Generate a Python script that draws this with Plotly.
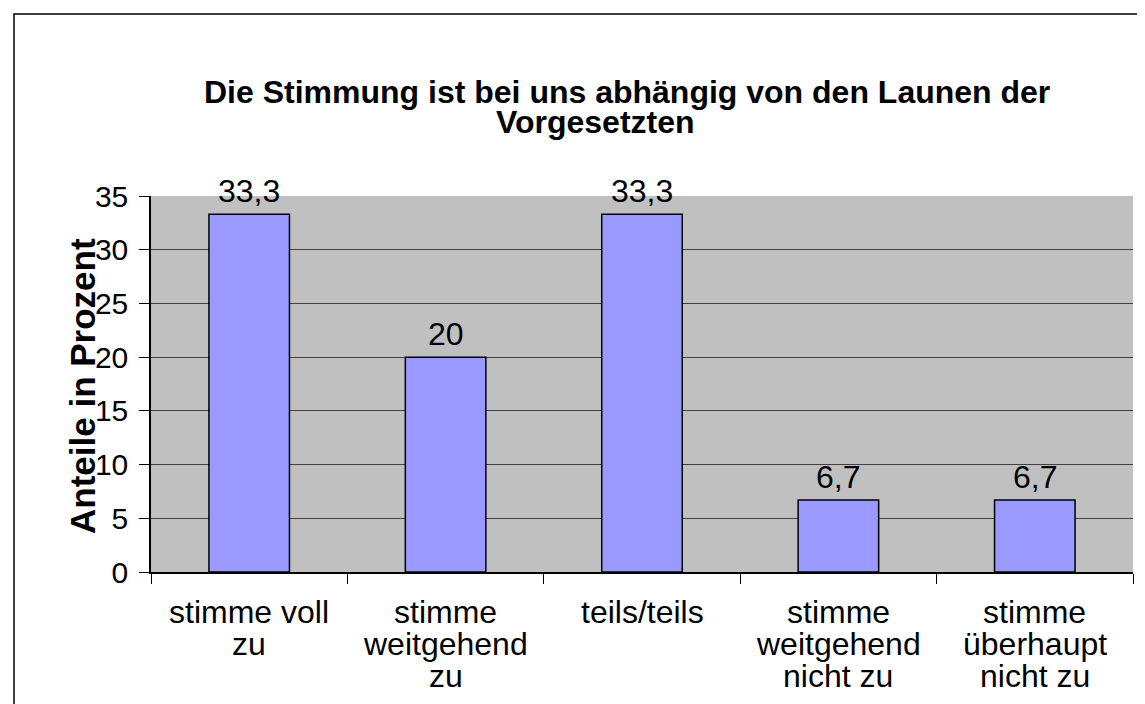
import plotly.graph_objects as go

categories = ["stimme voll zu", "stimme weitgehend zu", "teils/teils",
              "stimme weitgehend nicht zu", "stimme überhaupt nicht zu"]
label_lines = [["stimme voll", "zu"],
               ["stimme", "weitgehend", "zu"],
               ["teils/teils"],
               ["stimme", "weitgehend", "nicht zu"],
               ["stimme", "überhaupt", "nicht zu"]]
values = [33.3, 20, 33.3, 6.7, 6.7]
value_labels = ["33,3", "20", "33,3", "6,7", "6,7"]
title_lines = ["Die Stimmung ist bei uns abhängig von den Launen der", "Vorgesetzten"]
y_title = "Anteile in Prozent"
y_ticks = [0, 5, 10, 15, 20, 25, 30, 35]

OFF = 8  # page body margin
W, H = 1145 - OFF, 704 - OFF
# plot area in screen pixels: left 151, right 1133, top 196, bottom 572
L, T = 151 - OFF, 196 - OFF
R = W - (1133 - OFF)
B = H - (572 - OFF)
PW, PH = W - L - R, H - T - B
FONT = "Liberation Sans, Arial, sans-serif"


def px_x(x):
    return (x - OFF - L) / PW


def px_y(y):
    return (H - B - (y - OFF)) / PH


fig = go.Figure()
fig.add_trace(go.Bar(
    x=categories, y=values,
    marker=dict(color="#9999FF", line=dict(color="black", width=1.5)),
    width=0.41, cliponaxis=False, showlegend=False, hoverinfo="x+y",
))

annotations = []
# value labels above bars
for cat, v, lab in zip(categories, values, value_labels):
    annotations.append(dict(
        text=lab, x=cat, y=v, xref="x", yref="y", xanchor="center",
        yanchor="bottom", yshift=3, showarrow=False,
        font=dict(size=32, color="black", family=FONT)))
# title lines
title_centers = [627, 595]
title_mid = [92, 122]
for line, cx, cy in zip(title_lines, title_centers, title_mid):
    annotations.append(dict(
        text="<b>%s</b>" % line, x=px_x(cx), y=px_y(cy), xref="paper", yref="paper",
        xanchor="center", yanchor="middle", showarrow=False,
        font=dict(size=32, color="black", family=FONT)))
# y axis title
annotations.append(dict(
    text="<b>%s</b>" % y_title, x=px_x(82), y=px_y(386), xref="paper", yref="paper",
    xanchor="center", yanchor="middle", textangle=-90, showarrow=False,
    font=dict(size=35, color="black", family=FONT)))
# category labels, one annotation per line
for cat, lines in zip(categories, label_lines):
    for j, line in enumerate(lines):
        annotations.append(dict(
            text=line, x=cat, xref="x", y=px_y(612 + 32.2 * j), yref="paper",
            xanchor="center", yanchor="middle", showarrow=False,
            font=dict(size=32, color="black", family=FONT)))

fig.update_layout(
    width=W, height=H,
    margin=dict(l=L, r=R, t=T, b=B, pad=0),
    paper_bgcolor="white", plot_bgcolor="#C0C0C0",
    font=dict(family=FONT, color="black"),
    annotations=annotations,
    shapes=[dict(type="rect", xref="paper", yref="paper",
                 x0=px_x(14), x1=px_x(1145 + 30), y0=px_y(704 + 30), y1=px_y(14),
                 line=dict(color="black", width=1.5), layer="below")],
    bargap=0.59,
)
fig.update_xaxes(
    showline=True, linecolor="black", linewidth=1.5,
    ticks="outside", tickson="boundaries", ticklen=10, tickcolor="black",
    showticklabels=False, showgrid=False,
)
fig.update_yaxes(
    range=[0, 35], tickvals=y_ticks, ticktext=[str(v) for v in y_ticks],
    showline=True, linecolor="black", linewidth=1.5,
    ticks="outside", ticklen=10, tickcolor="black",
    tickfont=dict(size=30, color="black", family=FONT),
    showgrid=True, gridcolor="#404040", gridwidth=1, zeroline=False,
    ticklabelstandoff=5,
)

fig.write_html("out.html")
